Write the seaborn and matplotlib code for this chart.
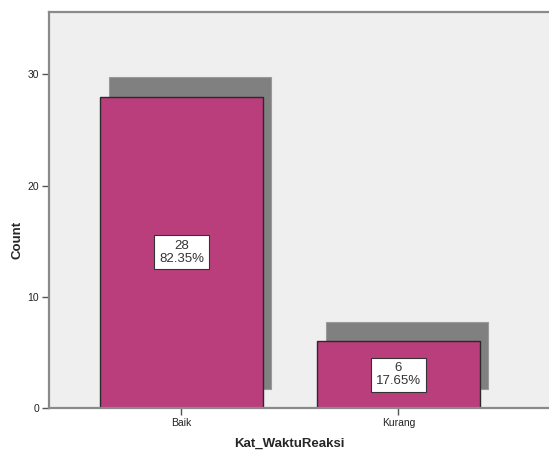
import matplotlib
matplotlib.use("Agg")
import matplotlib.pyplot as plt
import seaborn as sns
import numpy as np
import pandas as pd

categories = ["Baik", "Kurang"]
counts = [28, 6]
percents = [82.35, 17.65]
y_ticks = [0, 10, 20, 30]

sns.set_style("white")
plt.rcParams['font.family'] = ['Liberation Sans', 'DejaVu Sans']

fig = plt.figure(figsize=(5.49, 4.51), dpi=100)
ax = fig.add_axes([49 / 549, 1 - 408 / 451, 1 - 49 / 549 + 0.01, (408 - 12) / 451])
ax.set_facecolor("#EFEFEF")

df = pd.DataFrame({"cat": categories, "count": counts})
pos = np.arange(len(categories))

# shadow bars
ax.bar(pos + 0.04, counts, width=0.75, bottom=1.75, color="#808080",
       edgecolor="#9a9a9a", linewidth=0.8, zorder=1)

sns.barplot(data=df, x="cat", y="count", color="#BA3E7C", saturation=1,
            width=0.75, edgecolor="#2a2a2a", linewidth=1.0, ax=ax, zorder=2)

for i, (c, p) in enumerate(zip(counts, percents)):
    ax.text(i, c / 2, f"{c}\n{p:.2f}%", ha="center", va="center",
            fontsize=9.5, color="#333333", linespacing=1.1, zorder=5,
            bbox=dict(boxstyle="square,pad=0.35", facecolor="white",
                      edgecolor="#333333", linewidth=0.8))

ax.set_xlim(-0.611, 1.72)
ax.set_ylim(0, 35.6)
ax.set_yticks(y_ticks)
ax.set_yticklabels([str(t) for t in y_ticks])

for s in ["left", "top", "bottom"]:
    ax.spines[s].set_color("#8a8a8a")
    ax.spines[s].set_linewidth(1.6)
ax.spines["right"].set_visible(False)

ax.tick_params(axis="both", which="both", length=5, width=1, color="#555555",
               labelsize=7.5, labelcolor="#222222", pad=2, direction="out",
               left=True, bottom=True)

ax.set_xlabel("Kat_WaktuReaksi", fontsize=9.5, fontweight="bold")
ax.set_ylabel("Count", fontsize=9.5, fontweight="bold")
ax.xaxis.set_label_coords(0.476, -0.075)
ax.yaxis.set_label_coords(-0.050, 0.424)

fig.savefig("out.png", dpi=100)
